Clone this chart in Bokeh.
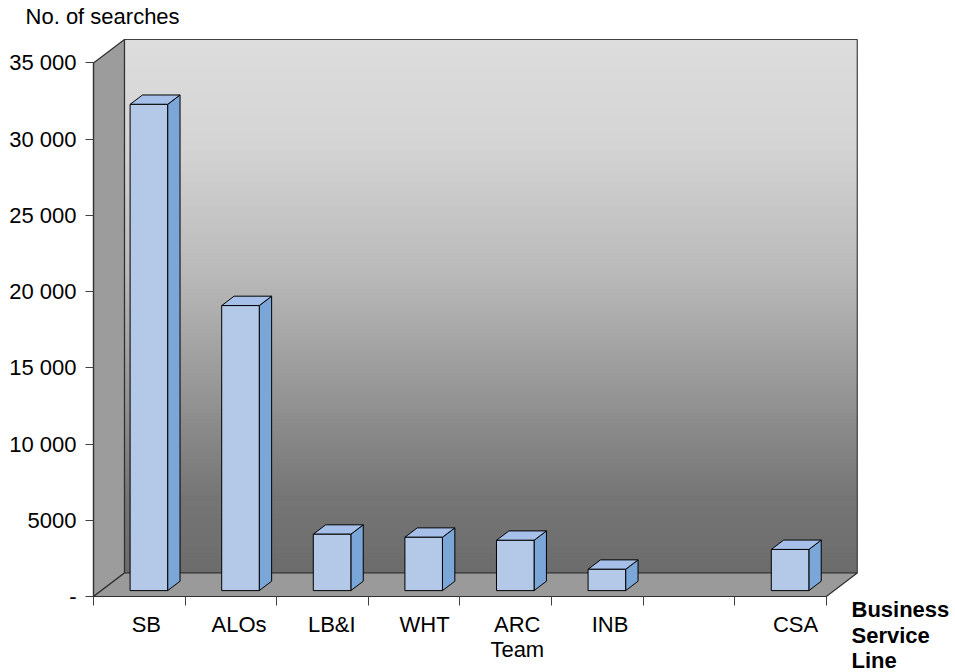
from bokeh.plotting import figure
from bokeh.models import Range1d, FixedTicker, CustomJSTickFormatter, Label, ColumnDataSource
from bokeh.embed import file_html
from bokeh.resources import INLINE

# Searches per business service line
categories = ["SB", "ALOs", "LB&I", "WHT", "ARC\nTeam", "INB", "", "CSA"]
searches = [31900, 18700, 3700, 3500, 3300, 1400, None, 2700]

y_ticks = [0, 5000, 10000, 15000, 20000, 25000, 30000, 35000]
y_tick_labels = ["-", "5000", "10 000", "15 000", "20 000", "25 000", "30 000", "35 000"]

Y_MAX = 35000
N = len(categories)

# oblique projection of the chart box (depth offset in data units)
DEPTH_X = 0.338
DEPTH_Y = 1542
BAR_FRONT = 0.25   # depth fraction of the bar front face
BAR_DEPTH = 0.40   # depth fraction taken by a bar
BAR_HALF = 0.205   # half width of a bar, in category units
BAR_SHIFT = 0.02

FONT = "Liberation Sans"

# the frame fills the canvas; both axes sit at fixed data locations inside it
p = figure(width=955, height=672, output_backend="svg", toolbar_location=None,
           x_range=Range1d(-1.0153, 9.4105), y_range=Range1d(-4986, 39100),
           min_border=0, background_fill_color="white", border_fill_color="white")
p.outline_line_color = None
p.xgrid.visible = False
p.ygrid.visible = False

# back wall: vertical grey gradient built from thin strips
stops = [(0.0, 221), (0.2, 212), (0.45, 184), (0.7, 143), (0.85, 118), (1.0, 108)]


def grey_at(t):
    for (t0, g0), (t1, g1) in zip(stops[:-1], stops[1:]):
        if t0 <= t <= t1:
            g = int(round(g0 + (g1 - g0) * (t - t0) / (t1 - t0)))
            return "#%02x%02x%02x" % (g, g, g)
    return "#6c6c6c"


n_strips = 160
wall_bottom = DEPTH_Y
wall_top = Y_MAX + DEPTH_Y
step = (wall_top - wall_bottom) / n_strips
strips = dict(left=[], right=[], top=[], bottom=[], color=[])
for k in range(n_strips):
    top = wall_top - k * step
    strips["left"].append(DEPTH_X)
    strips["right"].append(N + DEPTH_X)
    strips["top"].append(top)
    strips["bottom"].append(max(wall_bottom, top - step * 1.6))
    strips["color"].append(grey_at((k + 0.5) / n_strips))
p.quad(left="left", right="right", top="top", bottom="bottom", fill_color="color",
       line_color=None, source=ColumnDataSource(strips))
p.patch([DEPTH_X, N + DEPTH_X, N + DEPTH_X, DEPTH_X],
        [wall_bottom, wall_bottom, wall_top, wall_top],
        fill_color=None, line_color="#404040", line_width=1.2)

# side wall and floor
p.patch([0, DEPTH_X, DEPTH_X, 0], [0, DEPTH_Y, Y_MAX + DEPTH_Y, Y_MAX],
        fill_color="#9c9c9c", line_color="#303030", line_width=1.2)
p.patch([0, N, N + DEPTH_X, DEPTH_X], [0, 0, DEPTH_Y, DEPTH_Y],
        fill_color="#9a9a9a", line_color="#303030", line_width=1.2)

# bars: front, side and top faces
front = dict(xs=[], ys=[])
side = dict(xs=[], ys=[])
topf = dict(xs=[], ys=[])
fx, fy = BAR_FRONT * DEPTH_X, BAR_FRONT * DEPTH_Y
bx, by = BAR_DEPTH * DEPTH_X, BAR_DEPTH * DEPTH_Y
for i, v in enumerate(searches):
    if v is None:
        continue
    c = i + 0.5 + BAR_SHIFT + fx
    x0, x1 = c - BAR_HALF, c + BAR_HALF
    y0, y1 = fy, v + fy
    front["xs"].append([x0, x1, x1, x0])
    front["ys"].append([y0, y0, y1, y1])
    side["xs"].append([x1, x1 + bx, x1 + bx, x1])
    side["ys"].append([y0, y0 + by, y1 + by, y1])
    topf["xs"].append([x0, x1, x1 + bx, x0 + bx])
    topf["ys"].append([y1, y1, y1 + by, y1 + by])

p.patches("xs", "ys", source=ColumnDataSource(side), fill_color="#7ba6d8",
          line_color="black", line_width=1)
p.patches("xs", "ys", source=ColumnDataSource(topf), fill_color="#a6c0e9",
          line_color="black", line_width=1)
p.patches("xs", "ys", source=ColumnDataSource(front), fill_color="#b4c8e7",
          line_color="black", line_width=1)

# value axis
yax = p.yaxis[0]
yax.fixed_location = 0
yax.bounds = (0, Y_MAX)
yax.ticker = FixedTicker(ticks=y_ticks, minor_ticks=[])
yax.major_label_overrides = {t: s for t, s in zip(y_ticks, y_tick_labels)}
yax.axis_line_color = "#303030"
yax.axis_line_width = 1.2
yax.major_tick_line_color = "#404040"
yax.major_tick_out = 8
yax.major_tick_in = 0
yax.minor_tick_line_color = None
yax.major_label_standoff = 9
yax.major_label_text_font = FONT
yax.major_label_text_font_size = "22px"
yax.major_label_text_color = "black"

# category axis: labels under each slot, ticks at slot boundaries
label_pos = [i + 0.5 + (7 + 1.15 * i) / 91.6 for i in range(N)]
xax = p.xaxis[0]
xax.fixed_location = 0
xax.bounds = (0, N)
xax.ticker = FixedTicker(ticks=label_pos, minor_ticks=list(range(N + 1)))
xax.formatter = CustomJSTickFormatter(
    args=dict(labels=categories, pos=label_pos),
    code="""
    let best = 0;
    for (let k = 0; k < pos.length; k++) {
        if (Math.abs(pos[k] - tick) < Math.abs(pos[best] - tick)) best = k;
    }
    return labels[best];
    """)
xax.axis_line_color = "#303030"
xax.axis_line_width = 1.2
xax.major_tick_line_color = None
xax.major_tick_out = 0
xax.major_tick_in = 0
xax.minor_tick_line_color = "#404040"
xax.minor_tick_out = 9
xax.minor_tick_in = 0
xax.major_label_standoff = 7
xax.major_label_text_font = FONT
xax.major_label_text_font_size = "22px"
xax.major_label_text_line_height = 1.0
xax.major_label_text_color = "black"

# axis titles
p.add_layout(Label(x=-0.742, y=38050, text="No. of searches", text_font=FONT,
                   text_font_size="22px", text_baseline="middle", text_align="left",
                   text_color="black"))
for txt, yy in zip(["Business", "Service", "Line"], [-853, -2591, -4231]):
    p.add_layout(Label(x=8.275, y=yy, text=txt, text_font=FONT, text_font_size="22px",
                       text_font_style="bold", text_baseline="middle", text_align="left",
                       text_color="black"))

open("out.html", "w").write(file_html(p, INLINE))
